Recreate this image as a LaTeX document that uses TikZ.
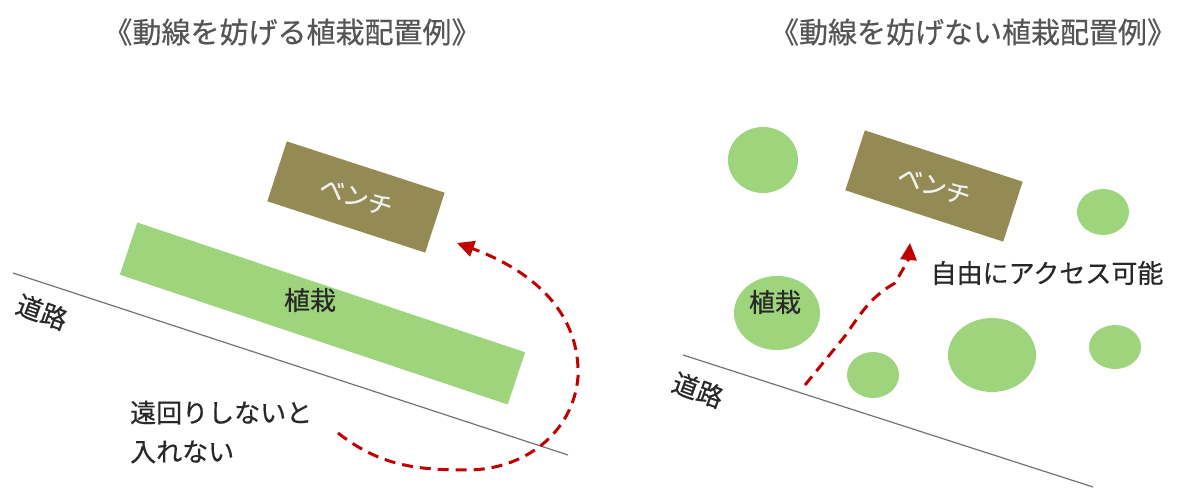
\documentclass[tikz,border=0pt]{standalone}
\usepackage{fontspec}
\newfontfamily\jp[FakeBold=0.5]{Noto Sans CJK JP}
\usetikzlibrary{shapes.geometric,arrows.meta}
\definecolor{benchcol}{RGB}{148,138,84}
\definecolor{plantcol}{RGB}{158,212,124}
\definecolor{routecol}{RGB}{192,0,0}
\definecolor{titlecol}{RGB}{85,85,85}
\definecolor{txtcol}{RGB}{40,40,40}
\tikzset{ttl/.style={inner sep=0pt,text=titlecol,font=\jp\fontsize{29}{31}\selectfont},
lbl/.style={inner sep=0pt,text=txtcol,font=\jp\fontsize{26}{39}\selectfont},
bench/.style={fill=benchcol,minimum width=166pt,minimum height=63pt,inner sep=0pt,rotate=-18,text=white!94!black,font=\jp\fontsize{25}{25}\selectfont},
hedge/.style={fill=plantcol,minimum width=409pt,minimum height=55pt,inner sep=0pt,rotate=-18.5},
tree/.style={ellipse,fill=plantcol,inner sep=0pt},
road/.style={draw=black!55,line width=1.2pt},
route/.style={draw=routecol,line width=3pt,dash pattern=on 11pt off 7pt,-{Triangle[length=17pt,width=16pt]}}}
\begin{document}
\begin{tikzpicture}[x=1pt,y=1pt]
\useasboundingbox (0,0) rectangle (1182,489);
% left: blocking layout
\node[ttl] (t1) at (292,457) {《動線を妨げる植栽配置例》};
\draw[road] (13,216) -- (568,34);
\node[lbl,rotate=-20] (r1) at (42,177) {道路};
\node[hedge] (h1) at (322.5,175.5) {};
\node[lbl] (p1) at (310,189) {植栽};
\node[bench] (b1) at (356,292) {ベンチ};
\node[lbl,anchor=west,align=left] (n1) at (130,57) {遠回りしないと\\入れない};
\coordinate (d1) at (338,56);
\coordinate (d2) at (457,246);
\draw[route] (d1) to[out=-38,in=180] (467,19) to[out=0,in=-95] (578,112) to[out=88,in=-20] (d2);
% right: open layout
\node[ttl] (t2) at (973,457) {《動線を妨げない植栽配置例》};
\draw[road] (683,134) -- (1093,2);
\node[lbl,rotate=-20] (r2) at (698,99) {道路};
\node[tree,minimum width=70pt,minimum height=66pt] (c1) at (763,329) {};
\node[tree,minimum width=52pt,minimum height=46pt] (c2) at (1103,277) {};
\node[tree,minimum width=86pt,minimum height=74pt] (c3) at (777,176) {};
\node[tree,minimum width=52pt,minimum height=46pt] (c4) at (873,114) {};
\node[tree,minimum width=88pt,minimum height=74pt] (c5) at (992,134) {};
\node[tree,minimum width=52pt,minimum height=44pt] (c6) at (1115,142) {};
\node[lbl] (p2) at (775,187) {植栽};
\node[bench] (b2) at (934,303) {ベンチ};
\node[lbl] (n2) at (1047,216) {自由にアクセス可能};
\coordinate (a1) at (805,104);
\coordinate (a2) at (910,246);
\draw[route] (a1) -- (845,153) to[out=55,in=-150] (895,206) to[out=60,in=-95] (a2);
\end{tikzpicture}
\end{document}
